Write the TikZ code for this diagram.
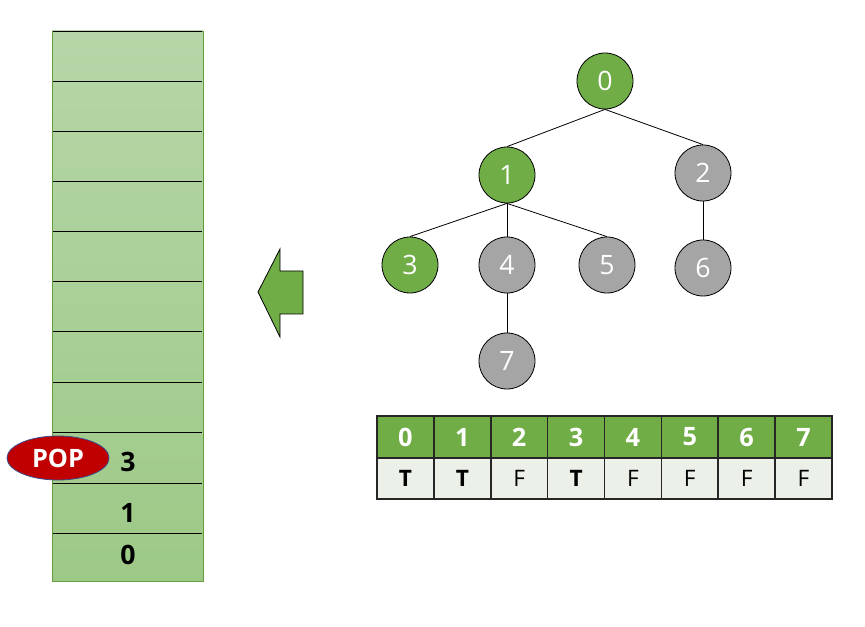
\documentclass[tikz,border=0pt]{standalone}
\usepackage{fontspec}
\setmainfont{Open Sans}
\usetikzlibrary{shapes.geometric}
\definecolor{visitgreen}{HTML}{70AD47}
\definecolor{restgray}{HTML}{A5A5A5}
\definecolor{stacktop}{HTML}{B6D6A7}
\definecolor{stackbot}{HTML}{9DC987}
\definecolor{cellbg}{HTML}{EBF1E9}
\definecolor{popred}{HTML}{C00000}
\definecolor{popedge}{HTML}{3A4A8A}
\begin{document}
\begin{tikzpicture}[x=0.75pt,y=-0.75pt,
  vertex/.style={circle,draw=black,line width=0.6pt,minimum size=42pt,inner sep=0pt,
    text=white,font=\fontsize{20}{20}\selectfont},
  seen/.style={vertex,fill=visitgreen},
  unseen/.style={vertex,fill=restgray},
  headcell/.style={draw=black!85,line width=1.2pt,fill=visitgreen,minimum width=42.65pt,
    minimum height=31.5pt,inner sep=0pt,text=white,font=\bfseries\fontsize{19}{19}\selectfont},
  flagcell/.style={draw=black!85,line width=1.2pt,fill=cellbg,minimum width=42.65pt,
    minimum height=30.75pt,inner sep=0pt,font=\fontsize{17}{17}\selectfont},
  stacknum/.style={font=\bfseries\fontsize{20}{20}\selectfont}]
\useasboundingbox (0,0) rectangle (865,627);

% stack
\shade[top color=stacktop,bottom color=stackbot] (52,31) rectangle (203,581);
\draw[visitgreen!90!black,line width=0.7pt] (52,31) rectangle (203,581);
\foreach \y in {31,81,131,181,231,281,331,382,432,483,533} {
  \draw[line width=0.6pt] (53,\y) -- (202,\y);
}
\node[stacknum] (s3) at (128,462) {3};
\node[stacknum] (s1) at (128,513) {1};
\node[stacknum] (s0) at (128,555) {0};
\node[ellipse,draw=popedge,line width=0.6pt,fill=popred,minimum width=76.5pt,minimum height=33pt,
  inner sep=0pt,text=white,font=\bfseries\fontsize{19}{19}\selectfont] (pop) at (58,458) {POP};

% arrow
\filldraw[fill=visitgreen,draw=black,line width=0.6pt]
  (258,292) -- (280,249) -- (280,271) -- (303,271) -- (303,314) -- (280,314) -- (280,337) -- cycle;

% tree
\node[seen] (n0) at (605,81) {0};
\node[seen] (n1) at (507,175) {1};
\node[unseen] (n2) at (703,173) {2};
\node[seen] (n3) at (410,265) {3};
\node[unseen] (n4) at (507,265) {4};
\node[unseen] (n5) at (607,265) {5};
\node[unseen] (n6) at (703,268) {6};
\node[unseen] (n7) at (507,361) {7};
\foreach \a/\b in {n0/n1,n0/n2,n1/n3,n1/n4,n1/n5,n2/n6,n4/n7} {
  \draw[line width=0.6pt] (\a.south) -- (\b.north);
}

% visited table
\foreach \i/\v in {0/\textbf{T},1/\textbf{T},2/F,3/\textbf{T},4/F,5/F,6/F,7/F} {
  \node[headcell] (h\i) at ({377+56.875*(\i+0.5)},437) {\i};
  \node[flagcell] (f\i) at ({377+56.875*(\i+0.5)},478.5) {\v};
}
\end{tikzpicture}
\end{document}
